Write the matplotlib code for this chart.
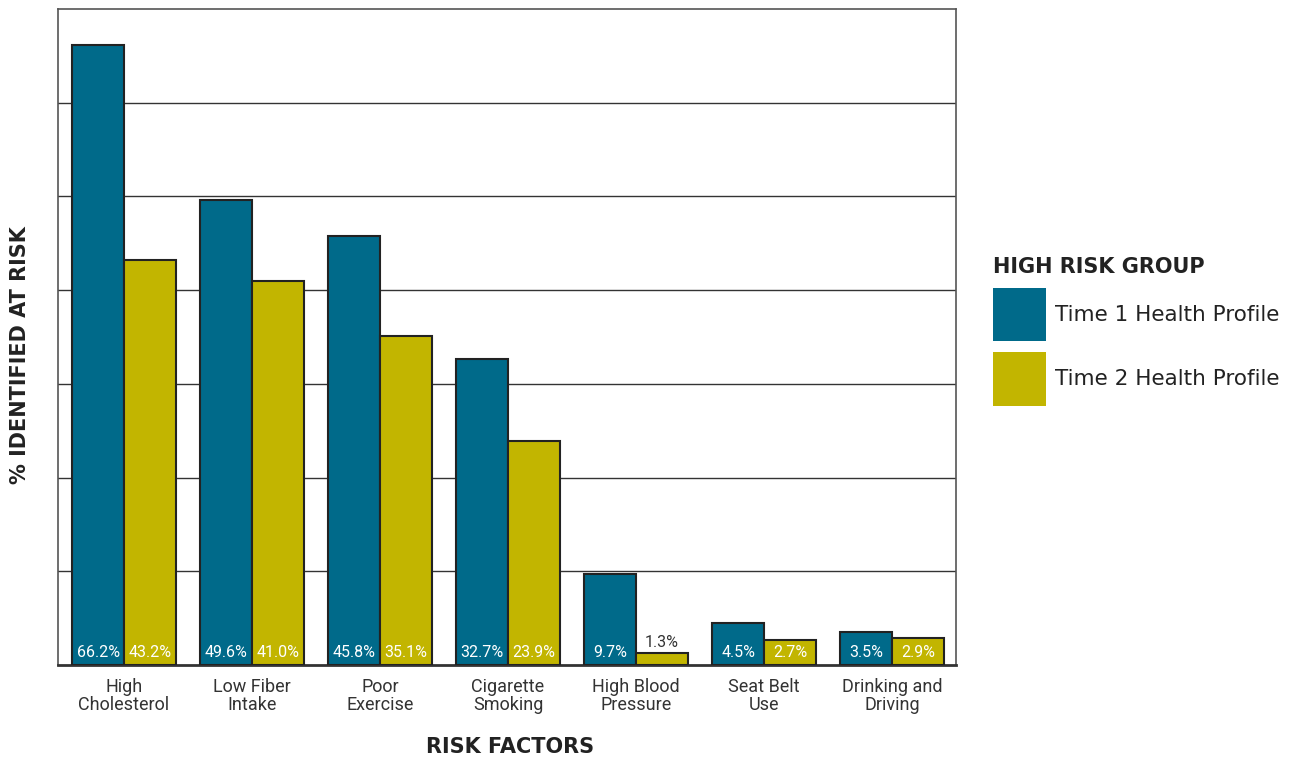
import numpy as np
import matplotlib.pyplot as plt

# data
categories = ['High\nCholesterol', 'Low Fiber\nIntake', 'Poor\nExercise', 'Cigarette\nSmoking',
              'High Blood\nPressure', 'Seat Belt\nUse', 'Drinking and\nDriving']
time1 = [66.2, 49.6, 45.8, 32.7, 9.7, 4.5, 3.5]
time2 = [43.2, 41.0, 35.1, 23.9, 1.3, 2.7, 2.9]
series_names = ['Time 1 Health Profile', 'Time 2 Health Profile']

blue = '#006a8a'
gold = '#c2b500'
narrow = ['Roboto', 'DejaVu Sans']

fig = plt.figure(figsize=(12.96, 7.61), dpi=100)
ax = fig.add_axes([58/1296, 1-665/761, (956-58)/1296, (665-9)/761])

x = np.arange(len(categories))
w = 0.405
b1 = ax.bar(x - w/2, time1, w, color=blue, edgecolor='#222222', linewidth=1.5, zorder=3,
            label=series_names[0])
b2 = ax.bar(x + w/2, time2, w, color=gold, edgecolor='#222222', linewidth=1.5, zorder=3,
            label=series_names[1])

# value labels at the bottom of each bar
for xi, v in zip(x, time1):
    ax.text(xi - w/2, 0.5, f'{v}%', ha='center', va='bottom', color='white',
            fontsize=11.5, family=narrow, zorder=4)
for xi, v in zip(x, time2):
    if v < 2:
        ax.text(xi + w/2, v + 0.3, f'{v}%', ha='center', va='bottom', color='#333333',
                fontsize=11.5, family=narrow, zorder=4)
    else:
        ax.text(xi + w/2, 0.5, f'{v}%', ha='center', va='bottom', color='white',
                fontsize=11.5, family=narrow, zorder=4)

ax.set_xlim(-0.516, 6.5)
ax.set_ylim(0, 70)
ax.set_yticks(np.arange(10, 70, 10))
ax.set_yticklabels([])
ax.tick_params(axis='y', length=0)
ax.grid(axis='y', color='#333333', linewidth=1.0, zorder=0)

ax.set_xticks(x)
ax.set_xticklabels(categories, fontsize=13, family=narrow, color='#333333', linespacing=1.0)
ax.tick_params(axis='x', length=0, pad=9)

for s in ['left', 'top', 'right']:
    ax.spines[s].set_color('#555555')
    ax.spines[s].set_linewidth(1.2)
ax.spines['bottom'].set_color('#333333')
ax.spines['bottom'].set_linewidth(2)

fig.text(20/1296, 1-355/761, '% IDENTIFIED AT RISK', rotation=90, ha='center', va='center',
         fontsize=15, fontweight='bold', color='#222222')
fig.text(510/1296, 1-747/761, 'RISK FACTORS', ha='center', va='center',
         fontsize=15, fontweight='bold', color='#222222')

leg = fig.legend(handles=[b1, b2], loc='upper left', bbox_to_anchor=(993/1296, 1-257/761),
                 frameon=False, fontsize=15.5, title='HIGH RISK GROUP',
                 title_fontproperties={'weight': 'bold', 'size': 15},
                 handlelength=2.47, handleheight=3.45, handletextpad=0.4,
                 labelspacing=0.5, borderpad=0, borderaxespad=0, alignment='left')
for t in leg.get_texts():
    t.set_color('#222222')
for p in leg.legend_handles:
    p.set_edgecolor('none')
leg.get_title().set_color('#222222')

fig.savefig('out.png', dpi=100)
